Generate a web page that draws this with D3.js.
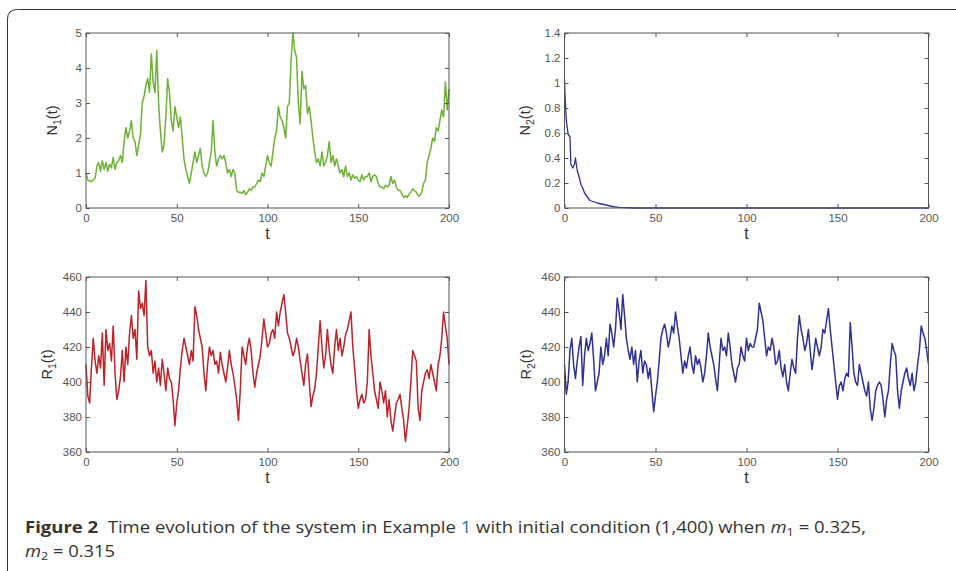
<!DOCTYPE html>
<html>
<head>
<meta charset="utf-8">
<script src="https://cdn.jsdelivr.net/npm/d3@7"></script>
<style>
  html, body { margin: 0; padding: 0; background: #fff; }
  svg { display: block; }
  text { font-family: "Liberation Sans", Arial, sans-serif; }
</style>
</head>
<body>
<svg id="chart" width="956" height="571"></svg>
<script>
// ---------------- data ----------------
const tValues = d3.range(0, 201);   // t = 0 .. 200
const xTicks = [0, 50, 100, 150, 200];

const yTicksN1 = [0, 1, 2, 3, 4, 5];
const yTicksN2 = [0, 0.2, 0.4, 0.6, 0.8, 1, 1.2, 1.4];
const yTicksR  = [360, 380, 400, 420, 440, 460];

const N1 = [
 1.0,0.8,0.78,0.75,0.8,0.85,1.2,1.3,1.05,1.35,1.1,1.3,1.05,1.25,1.15,1.45,1.1,1.3,1.35,1.5,
 1.3,1.9,2.3,2.0,2.2,2.5,2.0,1.9,1.5,1.8,2.1,3.0,3.2,3.5,3.7,3.3,4.4,3.6,3.3,4.5,
 3.0,2.2,1.6,1.8,2.6,3.7,3.3,2.5,2.2,2.9,2.6,2.3,2.6,2.0,1.4,1.1,0.9,0.7,1.0,1.3,
 1.6,1.3,1.5,1.7,1.2,1.0,0.9,1.0,1.3,1.6,2.5,1.6,1.2,1.4,1.5,1.4,1.5,1.3,1.0,1.1,
 0.9,1.1,1.0,0.5,0.45,0.45,0.42,0.5,0.38,0.45,0.55,0.5,0.6,0.6,0.7,0.8,0.75,1.0,0.9,1.2,
 1.5,1.3,1.2,1.6,2.0,2.2,2.9,2.6,2.5,2.3,2.0,2.9,3.0,4.2,5.0,4.5,4.3,3.0,2.4,3.9,
 3.4,3.5,2.7,2.9,2.5,2.0,1.6,1.3,1.4,1.2,1.6,1.2,1.3,1.5,1.9,1.3,1.5,1.2,1.4,1.2,
 1.0,1.1,0.9,1.2,0.9,1.0,0.8,0.95,0.85,0.9,0.8,0.75,0.95,0.8,0.9,0.9,1.0,0.75,0.9,0.95,
 0.9,0.7,0.6,0.6,0.55,0.65,0.6,0.65,0.9,0.7,0.8,0.6,0.5,0.5,0.4,0.3,0.35,0.3,0.4,0.45,
 0.55,0.5,0.45,0.35,0.35,0.45,0.7,0.8,1.3,1.5,1.7,2.0,1.9,2.3,2.2,2.5,2.8,2.6,3.6,2.8,
 3.4
];

const N2t = [0,0.3,0.7,1,2,3,3.5,4.5,5.5,6,7,8,9,10,11,12,13,14,16,18,21,24,27,30,35,40,60,100,150,200];
const N2  = [1.03,0.9,0.78,0.7,0.59,0.57,0.35,0.32,0.35,0.4,0.3,0.25,0.19,0.16,0.12,0.1,0.08,0.06,0.05,0.04,0.03,0.02,0.01,0.005,0.002,0,0,0,0,0];

const R1 = [
 410,392,388,408,425,412,405,415,408,428,398,430,418,422,412,432,405,390,395,403,
 418,400,420,410,428,438,425,430,413,452,442,445,438,458,420,415,418,405,412,400,
 408,398,413,405,395,408,402,400,390,375,388,395,408,418,425,420,415,410,418,412,
 443,438,430,425,420,405,395,410,420,415,418,410,412,405,417,410,405,400,408,418,
 410,405,398,390,378,395,420,415,410,420,425,418,405,397,405,410,415,425,436,428,
 420,422,428,430,425,440,432,440,445,450,440,428,425,420,415,418,425,420,412,405,
 398,410,416,400,386,392,396,405,420,435,420,408,415,430,418,410,405,420,430,418,
 425,415,420,427,430,435,440,420,408,395,385,390,393,388,390,400,430,415,405,395,
 390,385,400,395,388,395,380,390,378,372,380,388,390,393,385,378,366,375,385,400,
 418,415,412,385,378,395,400,405,407,402,410,405,400,395,410,415,425,440,432,425,
 410
];

const R2 = [
 410,393,400,418,425,410,402,412,420,426,398,415,425,418,422,428,413,395,400,405,
 420,410,415,425,415,433,428,420,430,448,440,430,450,438,425,418,413,420,410,418,
 400,412,418,405,412,410,402,408,395,383,392,400,412,425,430,433,428,420,425,432,
 428,440,432,425,415,405,412,408,415,420,410,405,415,410,413,408,400,405,415,428,
 420,415,410,402,395,410,425,418,420,415,428,420,410,405,400,408,410,420,415,412,
 425,418,422,420,420,425,430,445,440,435,425,415,420,418,425,420,410,412,418,408,
 403,410,400,395,405,413,408,405,425,438,430,425,418,422,430,418,407,415,425,420,
 415,420,430,428,435,442,430,420,410,400,390,398,400,395,402,405,403,434,420,405,
 400,398,410,405,400,395,392,400,385,378,385,395,398,400,398,390,380,390,395,410,
 422,418,415,395,385,395,400,405,408,402,398,405,395,400,410,418,432,428,425,418,
 410
];

const colors = { green: "#6cb234", blue: "#2e3192", red: "#bd2228" };

// ---------------- drawing ----------------
const svg = d3.select("#chart");

// outer rounded frame (top and left)
svg.append("path")
  .attr("d", "M7.5,571 L7.5,19 Q7.5,9.5 17.5,9.5 L956,9.5")
  .attr("fill", "none")
  .attr("stroke", "#333")
  .attr("stroke-width", 1);

function panel(opts) {
  const { x0, y0, w, h, xs, ys, yDomain, yTicks, color, lab, sub, fmt } = opts;
  const g = svg.append("g").attr("transform", `translate(${x0},${y0})`);
  const x = d3.scaleLinear().domain([0, 200]).range([0, w]);
  const y = d3.scaleLinear().domain(yDomain).range([h, 0]);

  // data line
  g.append("path")
    .datum(xs.map((t, i) => [t, ys[i]]))
    .attr("fill", "none")
    .attr("stroke", color)
    .attr("stroke-width", opts.sw || 1.5)
    .attr("stroke-linejoin", "round")
    .attr("d", d3.line().x(d => x(d[0])).y(d => y(d[1])));

  const tickStyle = sel => {
    sel.select(".domain").remove();
    sel.attr("font-family", null).attr("font-size", null);
    sel.selectAll(".tick line").attr("stroke", "#555");
    sel.selectAll(".tick text").attr("fill", "#555").style("font-size", "11.5px");
  };

  g.append("g").attr("transform", `translate(0,${h})`)
    .call(d3.axisBottom(x).tickValues(xTicks).tickSize(-4).tickPadding(6))
    .call(tickStyle);
  g.append("g")
    .call(d3.axisTop(x).tickValues(xTicks).tickSize(-4).tickFormat(""))
    .call(tickStyle);
  g.append("g")
    .call(d3.axisLeft(y).tickValues(yTicks).tickSize(-4).tickPadding(4).tickFormat(fmt))
    .call(tickStyle);
  g.append("g").attr("transform", `translate(${w},0)`)
    .call(d3.axisRight(y).tickValues(yTicks).tickSize(-4).tickFormat(""))
    .call(tickStyle);

  // frame
  g.append("rect").attr("x", 0).attr("y", 0).attr("width", w).attr("height", h)
    .attr("fill", "none").attr("stroke", "#555").attr("stroke-width", 1);

  // x label
  g.append("text").attr("x", w / 2).attr("y", h + 31)
    .attr("text-anchor", "middle").attr("fill", "#333")
    .style("font-size", "16px").text("t");

  // y label
  const yl = g.append("text")
    .attr("transform", `translate(${opts.ylx},${h / 2}) rotate(-90)`)
    .attr("text-anchor", "middle").attr("fill", "#333")
    .style("font-size", "14.5px");
  yl.append("tspan").text(lab);
  yl.append("tspan").attr("dy", 4).style("font-size", "10.5px").text(sub);
  yl.append("tspan").attr("dy", -4).text("(t)");
}

const fmtInt = d => String(d);
const fmtDec = d => String(+d.toFixed(1));

panel({ x0: 86, y0: 33, w: 363, h: 175, xs: tValues, ys: N1, yDomain: [0, 5],
        yTicks: yTicksN1, color: colors.green, lab: "N", sub: "1", fmt: fmtInt, ylx: -29 });
panel({ x0: 564.5, y0: 33, w: 364, h: 175, xs: N2t, ys: N2, yDomain: [0, 1.4],
        yTicks: yTicksN2, color: colors.blue, lab: "N", sub: "2", fmt: fmtDec, ylx: -35, sw: 1.3 });
panel({ x0: 86, y0: 277, w: 363, h: 175, xs: tValues, ys: R1, yDomain: [360, 460],
        yTicks: yTicksR, color: colors.red, lab: "R", sub: "1", fmt: fmtInt, ylx: -34 });
panel({ x0: 564.5, y0: 277, w: 364, h: 175, xs: tValues, ys: R2, yDomain: [360, 460],
        yTicks: yTicksR, color: colors.blue, lab: "R", sub: "2", fmt: fmtInt, ylx: -34 });

// ---------------- caption ----------------
const capFont = "'Open Sans', sans-serif";
const cap = svg.append("text").attr("x", 25).attr("y", 533)
  .attr("fill", "#333").style("font-family", capFont)
  .style("font-size", "16px").style("white-space", "pre")
  .attr("textLength", 841).attr("lengthAdjust", "spacingAndGlyphs");
cap.append("tspan").style("font-weight", "bold").text("Figure 2");
cap.append("tspan").text("  Time evolution of the system in Example ");
cap.append("tspan").attr("fill", "#2a6ebb").text("1");
cap.append("tspan").text(" with initial condition (1,400) when ");
cap.append("tspan").style("font-style", "italic").text("m");
cap.append("tspan").attr("dy", 3).style("font-size", "11px").text("1");
cap.append("tspan").attr("dy", -3).text(" = 0.325,");

const cap2 = svg.append("text").attr("x", 25).attr("y", 557)
  .attr("fill", "#333").style("font-family", capFont)
  .style("font-size", "16px").style("white-space", "pre")
  .attr("textLength", 90).attr("lengthAdjust", "spacingAndGlyphs");
cap2.append("tspan").style("font-style", "italic").text("m");
cap2.append("tspan").attr("dy", 3).style("font-size", "11px").text("2");
cap2.append("tspan").attr("dy", -3).text(" = 0.315");
</script>
</body>
</html>
